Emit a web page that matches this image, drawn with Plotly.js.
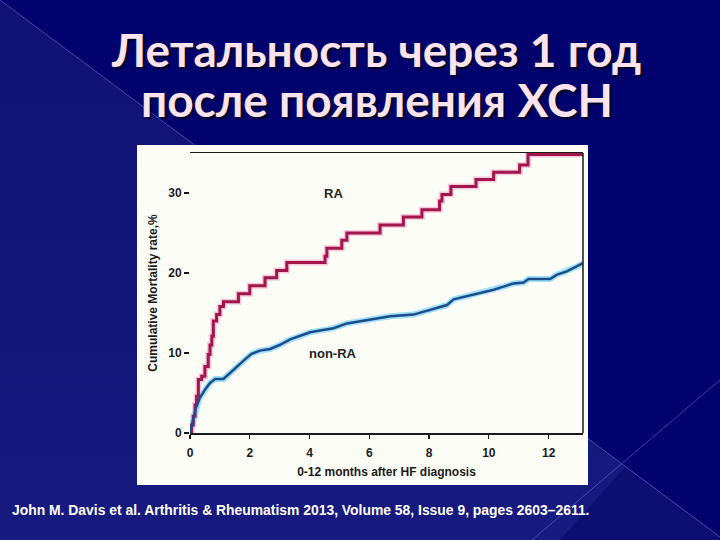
<!DOCTYPE html>
<html>
<head>
<meta charset="utf-8">
<script src="https://cdn.plot.ly/plotly-3.0.1.min.js"></script>
<style>
  html, body { margin: 0; padding: 0; width: 720px; height: 540px; overflow: hidden; background: #00006e; }
  #bg { position: absolute; left: 0; top: 0; }
  #chart { position: absolute; left: 0; top: 0; width: 720px; height: 540px; }
</style>
</head>
<body>
<svg id="bg" width="720" height="540" xmlns="http://www.w3.org/2000/svg">
  <defs>
    <linearGradient id="lite" x1="0" y1="0" x2="0" y2="1">
      <stop offset="0" stop-color="#0f1174"/>
      <stop offset="1" stop-color="#171a7e"/>
    </linearGradient>
  </defs>
  <rect x="0" y="0" width="720" height="540" fill="#02026e"/>
  <polygon points="0,0 720,537 720,540 0,540" fill="url(#lite)"/>
  <polygon points="625,467 720,537 720,540 560,540" fill="#0c0e72"/>
  <line x1="0" y1="0" x2="720" y2="537" stroke="rgba(110,130,220,0.55)" stroke-width="1"/>
  <line x1="532" y1="540" x2="720" y2="380" stroke="rgba(110,130,220,0.5)" stroke-width="1"/>
</svg>
<div id="chart"></div>
<script>
// ---- data ----
var raMonths = [0, 0.05, 0.11, 0.17, 0.22, 0.28, 0.39, 0.5, 0.61, 0.67, 0.73, 0.78, 0.89, 1.0, 1.12,
                1.62, 2.0, 2.51, 2.9, 3.24, 4.52, 4.58, 5.08, 5.25, 6.36,
                7.14, 7.76, 8.35, 8.43, 8.73, 9.57, 10.16, 11.03, 11.31, 13.15];
var raRate   = [0, 1.0, 2.1, 3.5, 4.6, 6.7, 7.1, 8.3, 9.8, 11.0, 12.1, 14.0, 14.8, 15.8, 16.4,
                17.4, 18.4, 19.4, 20.3, 21.3, 22.1, 23.1, 24.1, 25.0, 26.0,
                27.0, 27.9, 29.0, 29.8, 30.8, 31.7, 32.6, 33.5, 34.8, 34.8];

var nonRaMonths = [0, 0.1, 0.2, 0.28, 0.33, 0.5, 0.67, 0.84, 1.12, 1.34,
                   1.56, 1.84, 2.06, 2.34, 2.68, 3.0, 3.35, 3.68, 4.02, 4.35,
                   4.8, 5.25, 5.69, 6.14, 6.7, 7.48, 7.93, 8.37, 8.6, 8.82,
                   9.27, 9.71, 10.16, 10.49, 10.83, 11.16, 11.33, 12.05, 12.28, 12.61,
                   12.95, 13.15];
var nonRaRate   = [0, 1.6, 3.2, 3.9, 4.4, 5.4, 6.25, 6.75, 6.75, 7.5,
                   8.3, 9.2, 9.9, 10.3, 10.5, 11.0, 11.7, 12.1, 12.6, 12.8,
                   13.1, 13.7, 13.96, 14.2, 14.6, 14.8, 15.3, 15.7, 16.0, 16.7,
                   17.1, 17.5, 17.9, 18.3, 18.7, 18.8, 19.25, 19.25, 19.8, 20.2,
                   20.8, 21.25];

var xTickVals = [0, 2, 4, 6, 8, 10, 12];
var yTickVals = [0, 10, 20, 30];
var seriesLabels = ["RA", "non-RA"];
var titleLines = ["Летальность через 1 год", "после появления ХСН"];
var xTitle = "0-12 months after HF diagnosis";
var yTitle = "Cumulative Mortality rate,%";
var caption = "John M. Davis et al. Arthritis & Rheumatism 2013, Volume 58, Issue 9, pages 2603–2611.";

// ---- layout helpers ----
var W = 720, H = 540;
var M = {l: 190, r: 137, t: 153, b: 107};
var PW = W - M.l - M.r, PH = H - M.t - M.b;
function px(x) { return (x - M.l) / PW; }
function py(y) { return (H - M.b - y) / PH; }

var axisFont = {family: "Liberation Sans, Arial, sans-serif", size: 12, color: "#1a1a1a", weight: "bold"};

var traces = [
  {x: raMonths, y: raRate, mode: "lines", line: {shape: "hv", color: "rgba(240,160,195,0.55)", width: 6}, hoverinfo: "skip", showlegend: false},
  {x: nonRaMonths, y: nonRaRate, mode: "lines", line: {color: "rgba(130,215,245,0.75)", width: 6}, hoverinfo: "skip", showlegend: false},
  {x: raMonths, y: raRate, mode: "lines", name: seriesLabels[0], line: {shape: "hv", color: "#a3164c", width: 3}, showlegend: false},
  {x: nonRaMonths, y: nonRaRate, mode: "lines", name: seriesLabels[1], line: {color: "#1d4c8c", width: 2.5}, showlegend: false}
];

var titleFont = {family: "Lato, 'Open Sans', sans-serif", size: 46, color: "#fde3ee", weight: "bold"};

var annotations = [
  {xref: "paper", yref: "paper", x: px(376), y: py(49), text: titleLines[0], showarrow: false, font: titleFont, xanchor: "center", yanchor: "middle"},
  {xref: "paper", yref: "paper", x: px(377), y: py(99), text: titleLines[1], showarrow: false, font: titleFont, xanchor: "center", yanchor: "middle"},
  {xref: "x", yref: "y", x: 4.79, y: 30, text: seriesLabels[0], showarrow: false, font: {family: "Liberation Sans, Arial, sans-serif", size: 13, color: "#222", weight: "bold"}},
  {xref: "x", yref: "y", x: 4.79, y: 10, text: seriesLabels[1], showarrow: false, font: {family: "Liberation Sans, Arial, sans-serif", size: 13, color: "#222", weight: "bold"}},
  {xref: "paper", yref: "paper", x: px(10), y: py(510), text: caption, showarrow: false, xanchor: "left", yanchor: "middle",
   font: {family: "Liberation Sans, Arial, sans-serif", size: 13.9, color: "#ffffff", weight: "bold"}}
];

var shapes = [
  {type: "rect", xref: "paper", yref: "paper", x0: px(137), x1: px(588), y0: py(485), y1: py(145), fillcolor: "#fdfdf8", line: {width: 0}, layer: "below"},
  {type: "line", xref: "paper", yref: "paper", x0: 1, x1: 1, y0: 0, y1: 1, line: {color: "#1a1a1a", width: 1.5}}
];

var layout = {
  width: W, height: H,
  margin: M,
  paper_bgcolor: "rgba(0,0,0,0)",
  plot_bgcolor: "rgba(0,0,0,0)",
  showlegend: false,
  xaxis: {
    range: [0, 13.15], tickvals: xTickVals, ticktext: xTickVals.map(String),
    showline: true, mirror: true, linecolor: "#1a1a1a", linewidth: 1.5,
    ticks: "outside", ticklen: 4, tickwidth: 1.2, tickcolor: "#1a1a1a",
    ticklabelstandoff: 4,
    showgrid: false, zeroline: false, tickfont: axisFont,
    title: {text: xTitle, font: axisFont, standoff: 8}
  },
  yaxis: {
    range: [0, 35], tickvals: yTickVals, ticktext: yTickVals.map(String),
    showline: false, ticks: "outside", ticklen: 5, tickwidth: 1.2, tickcolor: "#1a1a1a",
    showgrid: false, zeroline: false, tickfont: axisFont,
    title: {text: yTitle, font: axisFont, standoff: 8}
  },
  annotations: annotations,
  shapes: shapes
};

Plotly.newPlot("chart", traces, layout, {displayModeBar: false, staticPlot: true}).then(function () {
  var anns = document.querySelectorAll("g.annotation");
  for (var i = 0; i < 2 && i < anns.length; i++) {
    var t = anns[i].querySelector("text");
    if (t) t.style.textShadow = "2px 2px 2px rgba(0,0,25,0.9)";
  }
});
</script>
</body>
</html>
